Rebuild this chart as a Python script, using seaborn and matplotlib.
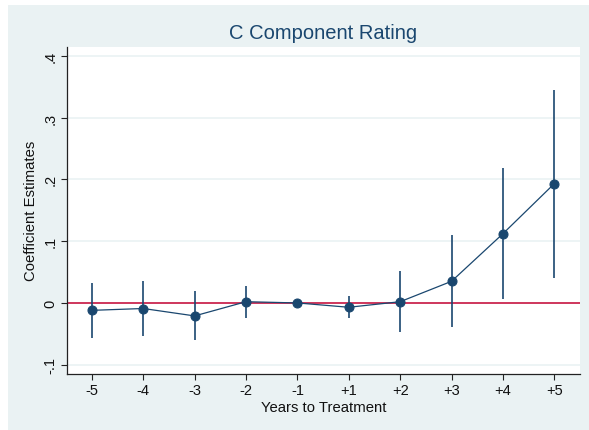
import matplotlib
matplotlib.use('Agg')
import matplotlib.pyplot as plt
import seaborn as sns
import pandas as pd
from matplotlib.patches import Rectangle

# event-time labels and estimates
periods = ['-5', '-4', '-3', '-2', '-1', '+1', '+2', '+3', '+4', '+5']
coef = [-0.012, -0.009, -0.021, 0.002, 0.0, -0.007, 0.002, 0.035, 0.112, 0.193]
ci_low = [-0.056, -0.054, -0.060, -0.025, 0.0, -0.025, -0.047, -0.039, 0.007, 0.041]
ci_high = [0.033, 0.036, 0.020, 0.028, 0.0, 0.0105, 0.0515, 0.110, 0.218, 0.345]
yticks = [-0.1, 0, 0.1, 0.2, 0.3, 0.4]
ytick_labels = ['-.1', '0', '.1', '.2', '.3', '.4']

df = pd.DataFrame({'period': periods, 'coef': coef, 'lo': ci_low, 'hi': ci_high})
df['pos'] = range(len(df))

sns.set_style('white')
plt.rcParams['font.family'] = ['Liberation Sans', 'DejaVu Sans']

navy = '#1a476f'
bg = '#eaf2f3'

fig = plt.figure(figsize=(5.89, 4.31), dpi=100, facecolor='white')
fig.patches.append(Rectangle((8 / 589, 0), 1, 1 - 6 / 431, transform=fig.transFigure,
                             facecolor=bg, edgecolor='none', zorder=-10))
ax = fig.add_axes([0.1132, 0.1299, 0.9847 - 0.1132, 0.8893 - 0.1299])
ax.set_zorder(1)
ax.set_facecolor('white')

for y in yticks:
    ax.axhline(y, color=bg, lw=1.2, zorder=0)
ax.axhline(0, color='#cc2850', lw=1.3, zorder=1)

ax.vlines(df['pos'], df['lo'], df['hi'], color=navy, lw=1.2, zorder=2)
sns.lineplot(data=df, x='pos', y='coef', ax=ax, color=navy, lw=0.9,
             marker='o', markersize=6.5, markeredgecolor=navy, zorder=3)

ax.set_xlim(-0.49, 9.5)
ax.set_ylim(-0.115, 0.4146)
ax.set_xticks(df['pos'])
ax.set_xticklabels(periods)
ax.set_yticks(yticks)
ax.set_yticklabels(ytick_labels, rotation=90, va='center')
ax.tick_params(axis='both', direction='out', length=4.3, width=0.8, color='#222222',
               labelsize=10.5, labelcolor='#111111')
ax.tick_params(axis='x', pad=2)
ax.tick_params(axis='y', pad=2.5)
ax.tick_params(axis='both', which='both', bottom=True, left=True)

for side in ['top', 'right']:
    ax.spines[side].set_visible(False)
for side in ['left', 'bottom']:
    ax.spines[side].set_color('#222222')
    ax.spines[side].set_linewidth(0.9)

ax.set_xlabel('Years to Treatment', fontsize=10.7, color='#111111', labelpad=2)
ax.set_ylabel('Coefficient Estimates', fontsize=10.7, color='#111111', labelpad=4)
ax.set_title('C Component Rating', fontsize=14.5, color=navy, pad=6)

fig.savefig('out.png', dpi=100, facecolor=fig.get_facecolor())
